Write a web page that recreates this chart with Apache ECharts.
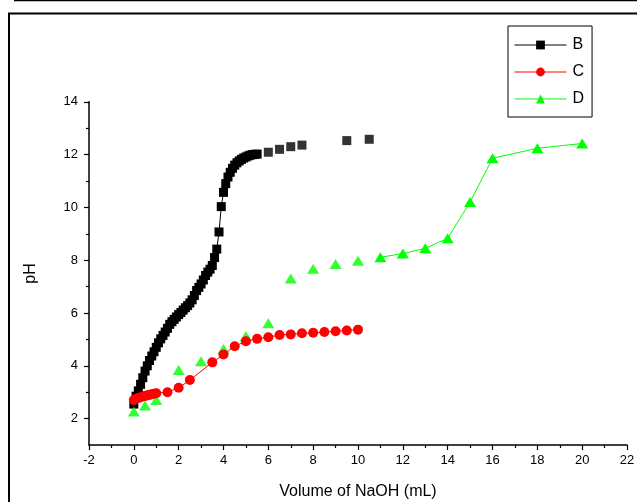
<!DOCTYPE html>
<html>
<head>
<meta charset="utf-8">
<script src="https://cdn.jsdelivr.net/npm/echarts@6/dist/echarts.min.js"></script>
<style>
html,body{margin:0;padding:0;background:#fff;}
#chart{width:637px;height:502px;}
</style>
</head>
<body>
<div id="chart"></div>
<script>
// ---- data ----
var volB = [0,0.1,0.2,0.3,0.4,0.5,0.6,0.7,0.8,0.9,1.0,1.1,1.2,1.3,1.4,1.5,1.6,1.7,1.8,1.9,2.0,2.1,2.2,2.3,2.4,2.5,2.6,2.7,2.8,2.9,3.0,3.1,3.2,3.3,3.4,3.5,3.6,3.7,3.8,3.9,4.0,4.1,4.2,4.3,4.4,4.5,4.6,4.7,4.8,4.9,5.0,5.1,5.2,5.3,5.4,5.5,6.0,6.5,7.0,7.5,9.5,10.5];
var phB  = [2.55,2.85,3.05,3.3,3.55,3.8,4.0,4.2,4.37,4.53,4.7,4.87,5.02,5.15,5.28,5.42,5.57,5.67,5.76,5.85,5.94,6.02,6.11,6.2,6.28,6.38,6.5,6.66,6.85,6.97,7.1,7.25,7.42,7.55,7.66,7.8,8.1,8.42,9.07,10.03,10.57,10.9,11.15,11.33,11.48,11.6,11.69,11.76,11.82,11.87,11.91,11.95,11.98,12.0,12.01,12.02,12.09,12.2,12.3,12.36,12.53,12.58];
var bLineEndVol = 5.5;   // B drawn with a connecting line up to here

var volC = [0,0.1,0.2,0.3,0.4,0.5,0.6,0.7,0.8,0.9,1.0,1.5,2.0,2.5,3.5,4.0,4.5,5.0,5.5,6.0,6.5,7.0,7.5,8.0,8.5,9.0,9.5,10.0];
var phC  = [2.70,2.75,2.78,2.81,2.84,2.86,2.88,2.90,2.92,2.94,2.96,3.0,3.17,3.46,4.13,4.43,4.74,4.93,5.02,5.08,5.17,5.19,5.23,5.25,5.28,5.31,5.34,5.37];

var volD = [0,0.5,1,2,3,4,5,6,7,8,9,10,11,12,13,14,15,16,18,20];
var phD  = [2.27,2.5,2.7,3.84,4.17,4.64,5.13,5.61,7.31,7.68,7.86,7.98,8.11,8.25,8.45,8.83,10.2,11.86,12.24,12.42];
var dLineStartVol = 11;  // D drawn with a connecting line from here

var xTicks = [-2,0,2,4,6,8,10,12,14,16,18,20,22];
var yMajor = [2,4,6,8,10,12,14];
var yMinor = [3,5,7,9,11,13];

// ---- build ----
function pairs(v, p, test){ var out=[]; for(var i=0;i<v.length;i++){ if(test(v[i])) out.push([v[i],p[i]]);} return out; }
var bLine = pairs(volB, phB, function(x){return x<=bLineEndVol;});
var bPts  = pairs(volB, phB, function(x){return x>bLineEndVol;});
var cLine = pairs(volC, phC, function(){return true;});
var dLine = pairs(volD, phD, function(x){return x>=dLineStartVol;});
var dPts  = pairs(volD, phD, function(x){return x<dLineStartVol;});

var FONT = 'Liberation Sans, Arial, sans-serif';
var chart = echarts.init(document.getElementById('chart'), null, {renderer:'canvas'});
var option = {
  animation:false,
  backgroundColor:'#fff',
  graphic:[
    {type:'line', shape:{x1:14,y1:0.5,x2:637,y2:0.5}, style:{stroke:'#000',lineWidth:1.5}, silent:true},
    {type:'rect', shape:{x:9,y:13.5,width:700,height:600}, style:{fill:null,stroke:'#000',lineWidth:2}, silent:true}
  ],
  grid:{left:89,right:10,top:101.8,bottom:57,containLabel:false,outerBoundsMode:'none'},
  legend:{
    orient:'vertical', left:508, top:26,
    padding:[11,8,10,6], itemGap:11, itemWidth:52, itemHeight:11,
    borderColor:'#000', borderWidth:1, backgroundColor:'#fff',
    lineStyle:{width:1},
    textStyle:{fontFamily:FONT,fontSize:16,color:'#000',padding:[0,0,0,1]},
    data:['B','C','D']
  },
  xAxis:{
    type:'value', min:-2, max:22, interval:2,
    name:'Volume of NaOH (mL)', nameLocation:'middle', nameGap:39,
    nameTextStyle:{fontFamily:FONT,fontSize:16,color:'#000'},
    axisLine:{show:true,onZero:false,lineStyle:{color:'#000',width:1.5}},
    axisTick:{show:true,length:5,lineStyle:{color:'#000',width:1.2}},
    minorTick:{show:true,splitNumber:2,length:3,lineStyle:{color:'#000',width:1.2}},
    axisLabel:{fontFamily:FONT,fontSize:13,color:'#000',margin:9},
    splitLine:{show:false}
  },
  yAxis:[{
    type:'value', min:1, max:14,
    name:'pH', nameLocation:'middle', nameGap:50,
    nameTextStyle:{fontFamily:FONT,fontSize:16,color:'#000'},
    axisLine:{show:true,onZero:false,lineStyle:{color:'#000',width:1.5}},
    axisTick:{show:true,length:5,customValues:yMajor,lineStyle:{color:'#000',width:1.2}},
    axisLabel:{fontFamily:FONT,fontSize:13,color:'#000',margin:11,customValues:yMajor},
    splitLine:{show:false}
  },{
    type:'value', min:1, max:14, position:'left', offset:0,
    axisLine:{show:false,onZero:false},
    axisTick:{show:true,length:3,customValues:yMinor,lineStyle:{color:'#000',width:1.2}},
    axisLabel:{show:false},
    splitLine:{show:false}
  }],
  series:[
    {name:'B', type:'line', data:bLine, symbol:'rect', symbolSize:9, showAllSymbol:true,
     itemStyle:{color:'#000'}, lineStyle:{color:'#000',width:1}, z:2},
    {name:'B ', type:'scatter', data:bPts, symbol:'rect', symbolSize:9,
     itemStyle:{color:'#000'}, z:2},
    {name:'C', type:'line', data:cLine, symbol:'circle', symbolSize:10, showAllSymbol:true,
     itemStyle:{color:'#ff0000'}, lineStyle:{color:'#ff0000',width:1}, z:3},
    {name:'D', type:'line', data:dLine, symbol:'triangle', symbolSize:[12,10], showAllSymbol:true,
     itemStyle:{color:'#00ff00'}, lineStyle:{color:'#00ff00',width:1}, z:2},
    {name:'D ', type:'scatter', data:dPts, symbol:'triangle', symbolSize:[12,10],
     itemStyle:{color:'#00ff00'}, z:2}
  ]
};
chart.setOption(option);
</script>
</body>
</html>
